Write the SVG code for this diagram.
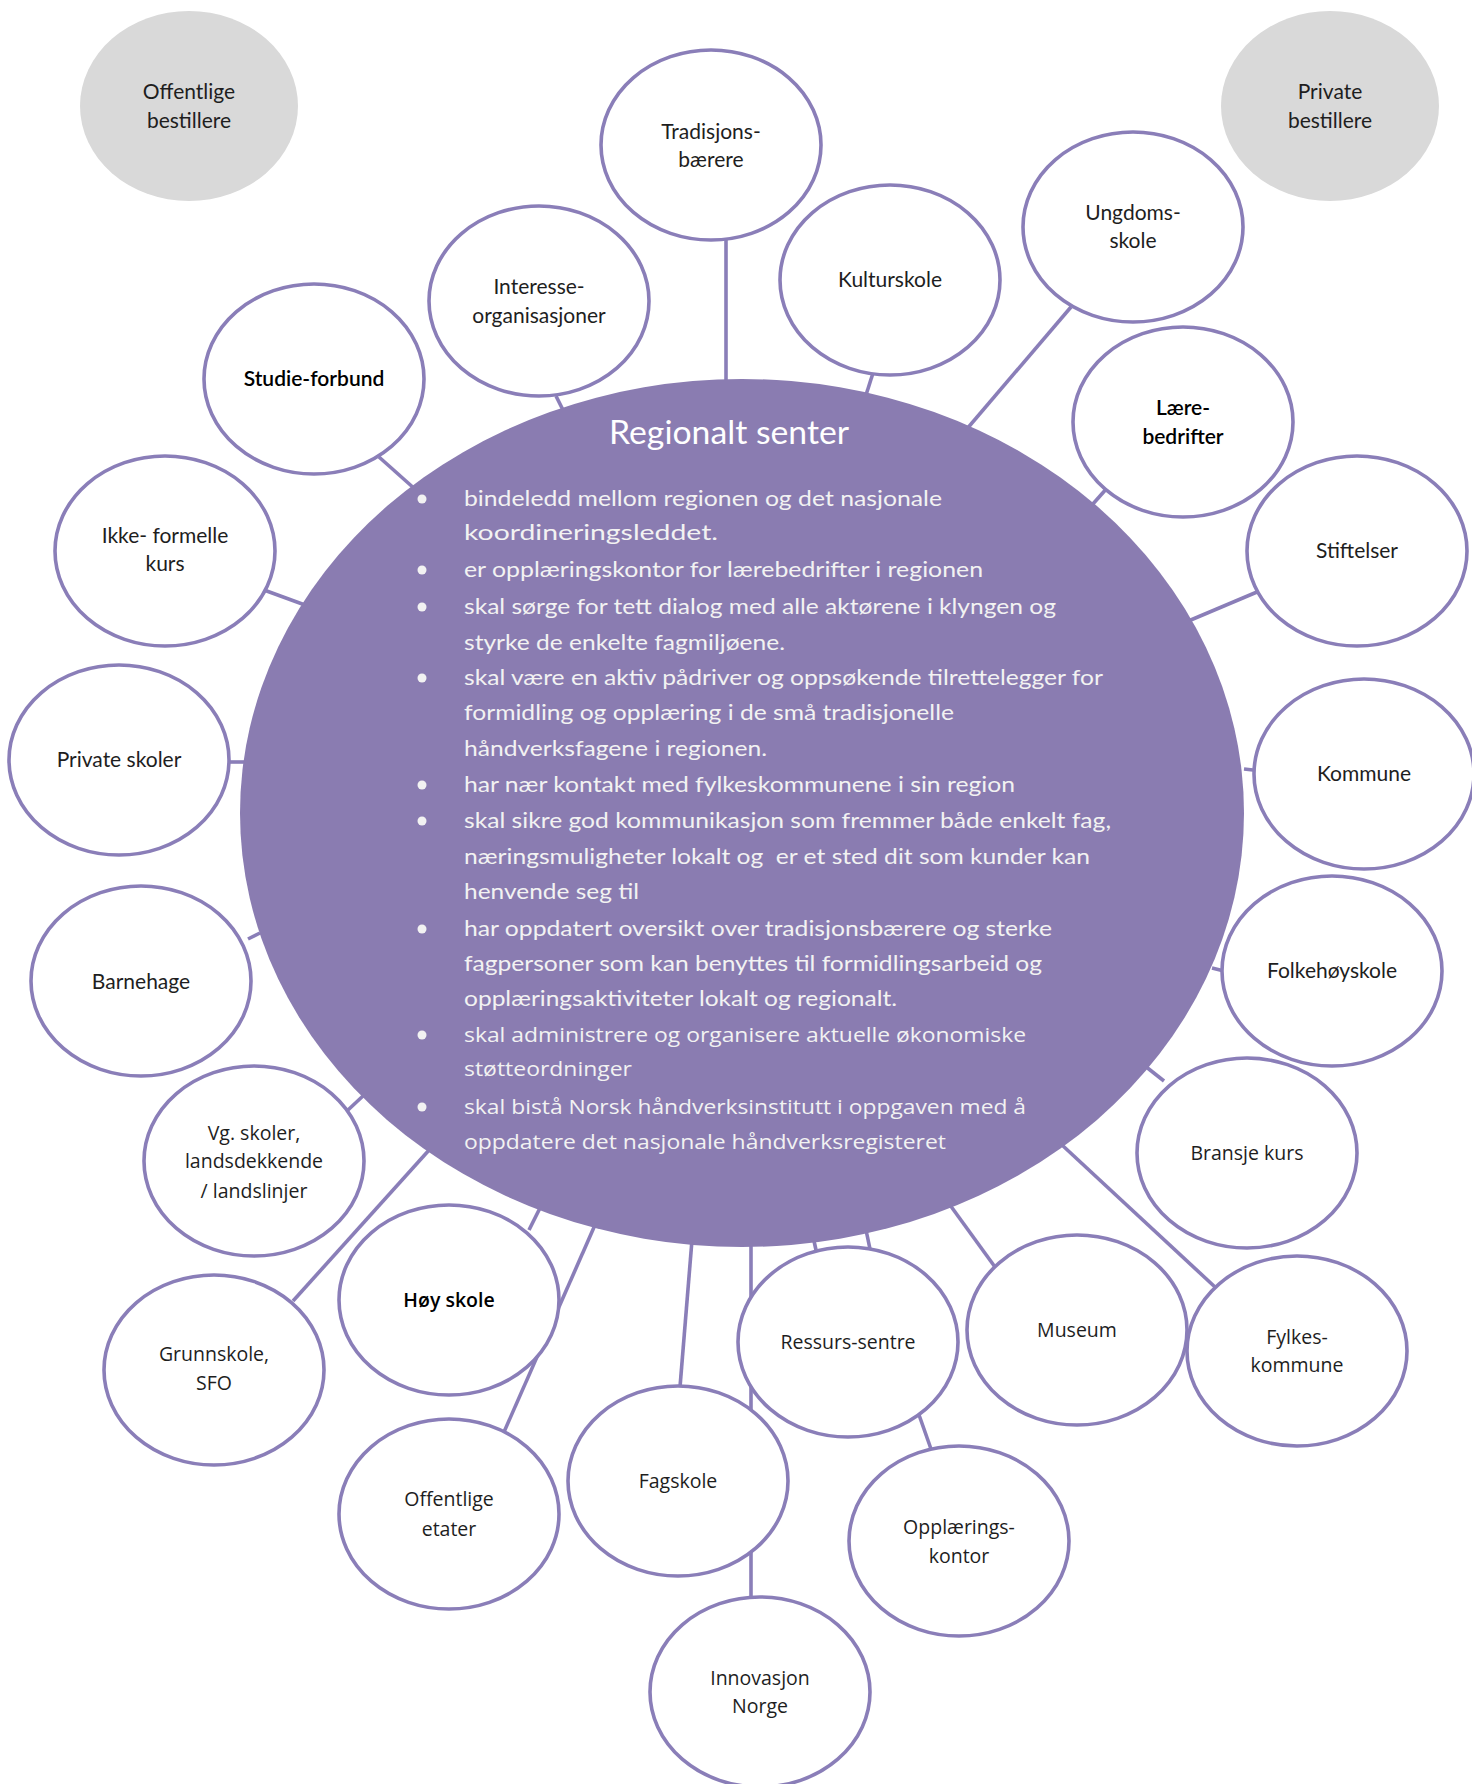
<svg xmlns="http://www.w3.org/2000/svg" width="1472" height="1784" viewBox="0 0 1472 1784">
<style>
.n{fill:#fff;stroke:#8A7EB8;stroke-width:3.6}
.g{fill:#D9D9D9;stroke:none}
.c line{stroke:#8A7EB8;stroke-width:3.6}
.a{font-family:Lato,"Liberation Sans",sans-serif;font-size:21px;fill:#1e1e1e;text-anchor:middle}
.b{font-family:"Open Sans","Noto Sans",sans-serif;font-size:19.5px;fill:#1e1e1e;text-anchor:middle}
.k{fill:#000;font-weight:600}
.t{font-family:Lato,"Liberation Sans",sans-serif;font-size:22px;fill:#F2F2F2}
.u{font-family:"Open Sans","Noto Sans",sans-serif;font-size:20.5px;fill:#F2F2F2}
.d{fill:#F2F2F2}
</style>
<rect width="1472" height="1784" fill="#fff"/>
<g id="connectors" class="c">
<line x1="726" y1="238" x2="726" y2="385"/>
<line x1="556" y1="396" x2="564" y2="412"/>
<line x1="379" y1="457" x2="416" y2="490"/>
<line x1="873" y1="373" x2="866" y2="395"/>
<line x1="1071" y1="307" x2="966" y2="430"/>
<line x1="1108" y1="487" x2="1092" y2="505"/>
<line x1="1257" y1="592" x2="1186" y2="622"/>
<line x1="1244" y1="769" x2="1262" y2="771"/>
<line x1="1212" y1="968" x2="1224" y2="971"/>
<line x1="1145" y1="1066" x2="1164" y2="1081"/>
<line x1="1062" y1="1145" x2="1215" y2="1287"/>
<line x1="950" y1="1205" x2="995" y2="1267"/>
<line x1="812" y1="1232" x2="816" y2="1250"/>
<line x1="866" y1="1230" x2="870" y2="1249"/>
<line x1="918" y1="1412" x2="931" y2="1449"/>
<line x1="751" y1="1240" x2="751" y2="1600"/>
<line x1="692" y1="1240" x2="680" y2="1387"/>
<line x1="540" y1="1208" x2="529" y2="1230"/>
<line x1="595" y1="1225" x2="504" y2="1432"/>
<line x1="430" y1="1149" x2="293" y2="1301"/>
<line x1="364" y1="1095" x2="348" y2="1110"/>
<line x1="248" y1="939" x2="260" y2="933"/>
<line x1="228" y1="762" x2="244" y2="762"/>
<line x1="264" y1="590" x2="305" y2="605"/>
</g>
<g id="regionalt-senter">
<ellipse cx="742" cy="813" rx="502" ry="434" fill="#8A7CB1"/>
<text x="729" y="444" text-anchor="middle" font-family="Lato,'Liberation Sans',sans-serif" font-size="32" fill="#fff" textLength="240" lengthAdjust="spacingAndGlyphs">Regionalt senter</text>
<circle class="d" cx="422" cy="499" r="4.5"/>
<circle class="d" cx="422" cy="570" r="4.5"/>
<circle class="d" cx="422" cy="607" r="4.5"/>
<circle class="d" cx="422" cy="678" r="4.5"/>
<circle class="d" cx="422" cy="785" r="4.5"/>
<circle class="d" cx="422" cy="821" r="4.5"/>
<circle class="d" cx="422" cy="929" r="4.5"/>
<circle class="d" cx="422" cy="1035" r="4.5"/>
<circle class="d" cx="422" cy="1107" r="4.5"/>
<text class="t" x="464" y="506" textLength="478" lengthAdjust="spacingAndGlyphs">bindeledd mellom regionen og det nasjonale</text>
<text class="t" x="464" y="540" textLength="254" lengthAdjust="spacingAndGlyphs">koordineringsleddet.</text>
<text class="t" x="464" y="577" textLength="519" lengthAdjust="spacingAndGlyphs">er opplæringskontor for lærebedrifter i regionen</text>
<text class="t" x="464" y="614" textLength="592" lengthAdjust="spacingAndGlyphs">skal sørge for tett dialog med alle aktørene i klyngen og</text>
<text class="t" x="464" y="650" textLength="321" lengthAdjust="spacingAndGlyphs">styrke de enkelte fagmiljøene.</text>
<text class="t" x="464" y="685" textLength="639" lengthAdjust="spacingAndGlyphs">skal være en aktiv pådriver og oppsøkende tilrettelegger for</text>
<text class="t" x="464" y="720" textLength="490" lengthAdjust="spacingAndGlyphs">formidling og opplæring i de små tradisjonelle</text>
<text class="t" x="464" y="756" textLength="303" lengthAdjust="spacingAndGlyphs">håndverksfagene i regionen.</text>
<text class="t" x="464" y="792" textLength="551" lengthAdjust="spacingAndGlyphs">har nær kontakt med fylkeskommunene i sin region</text>
<text class="t" x="464" y="828" textLength="647" lengthAdjust="spacingAndGlyphs">skal sikre god kommunikasjon som fremmer både enkelt fag,</text>
<text class="t" x="464" y="864" textLength="626" lengthAdjust="spacingAndGlyphs" xml:space="preserve">næringsmuligheter lokalt og  er et sted dit som kunder kan</text>
<text class="t" x="464" y="899" textLength="175" lengthAdjust="spacingAndGlyphs">henvende seg til</text>
<text class="t" x="464" y="936" textLength="588" lengthAdjust="spacingAndGlyphs">har oppdatert oversikt over tradisjonsbærere og sterke</text>
<text class="t" x="464" y="971" textLength="578" lengthAdjust="spacingAndGlyphs">fagpersoner som kan benyttes til formidlingsarbeid og</text>
<text class="t" x="464" y="1006" textLength="433" lengthAdjust="spacingAndGlyphs">opplæringsaktiviteter lokalt og regionalt.</text>
<text class="u" x="464" y="1042" textLength="562" lengthAdjust="spacingAndGlyphs">skal administrere og organisere aktuelle økonomiske</text>
<text class="u" x="464" y="1076" textLength="168" lengthAdjust="spacingAndGlyphs">støtteordninger</text>
<text class="u" x="464" y="1114" textLength="562" lengthAdjust="spacingAndGlyphs">skal bistå Norsk håndverksinstitutt i oppgaven med å</text>
<text class="u" x="464" y="1149" textLength="482" lengthAdjust="spacingAndGlyphs">oppdatere det nasjonale håndverksregisteret</text>
</g>
<g id="offentlige-bestillere"><ellipse class="g" cx="189" cy="106" rx="109" ry="95"/><text class="a" x="189" y="99">Offentlige</text><text class="a" x="189" y="128">bestillere</text></g>
<g id="private-bestillere"><ellipse class="g" cx="1330" cy="106" rx="109" ry="95"/><text class="a" x="1330" y="99">Private</text><text class="a" x="1330" y="128">bestillere</text></g>
<g id="tradisjonsbaerere"><ellipse class="n" cx="711" cy="145" rx="110" ry="95"/><text class="a" x="711" y="139">Tradisjons-</text><text class="a" x="711" y="167">bærere</text></g>
<g id="interesseorganisasjoner"><ellipse class="n" cx="539" cy="301" rx="110" ry="95"/><text class="a" x="539" y="294">Interesse-</text><text class="a" x="539" y="323">organisasjoner</text></g>
<g id="studieforbund"><ellipse class="n" cx="314" cy="379" rx="110" ry="95"/><text class="a k" x="314" y="386">Studie-forbund</text></g>
<g id="ikke-formelle-kurs"><ellipse class="n" cx="165" cy="551" rx="110" ry="95"/><text class="a" x="165" y="543">Ikke- formelle</text><text class="a" x="165" y="571">kurs</text></g>
<g id="private-skoler"><ellipse class="n" cx="119" cy="760" rx="110" ry="95"/><text class="a" x="119" y="767">Private skoler</text></g>
<g id="barnehage"><ellipse class="n" cx="141" cy="981" rx="110" ry="95"/><text class="a" x="141" y="989">Barnehage</text></g>
<g id="vg-skoler"><ellipse class="n" cx="254" cy="1161" rx="110" ry="95"/><text class="b" x="254" y="1140">Vg. skoler,</text><text class="b" x="254" y="1168">landsdekkende</text><text class="b" x="254" y="1198">/ landslinjer</text></g>
<g id="grunnskole"><ellipse class="n" cx="214" cy="1370" rx="110" ry="95"/><text class="b" x="214" y="1361">Grunnskole,</text><text class="b" x="214" y="1390">SFO</text></g>
<g id="hoy-skole"><ellipse class="n" cx="449" cy="1300" rx="110" ry="95"/><text class="b k" x="449" y="1307">Høy skole</text></g>
<g id="offentlige-etater"><ellipse class="n" cx="449" cy="1514" rx="110" ry="95"/><text class="b" x="449" y="1506">Offentlige</text><text class="b" x="449" y="1536">etater</text></g>
<g id="fagskole"><ellipse class="n" cx="678" cy="1481" rx="110" ry="95"/><text class="b" x="678" y="1488">Fagskole</text></g>
<g id="innovasjon-norge"><ellipse class="n" cx="760" cy="1692" rx="110" ry="95"/><text class="b" x="760" y="1685">Innovasjon</text><text class="b" x="760" y="1713">Norge</text></g>
<g id="ressurssentre"><ellipse class="n" cx="848" cy="1342" rx="110" ry="95"/><text class="b" x="848" y="1349">Ressurs-sentre</text></g>
<g id="opplaeringskontor"><ellipse class="n" cx="959" cy="1541" rx="110" ry="95"/><text class="b" x="959" y="1534">Opplærings-</text><text class="b" x="959" y="1563">kontor</text></g>
<g id="museum"><ellipse class="n" cx="1077" cy="1330" rx="110" ry="95"/><text class="b" x="1077" y="1337">Museum</text></g>
<g id="fylkeskommune"><ellipse class="n" cx="1297" cy="1351" rx="110" ry="95"/><text class="b" x="1297" y="1344">Fylkes-</text><text class="b" x="1297" y="1372">kommune</text></g>
<g id="bransje-kurs"><ellipse class="n" cx="1247" cy="1153" rx="110" ry="95"/><text class="b" x="1247" y="1160">Bransje kurs</text></g>
<g id="folkehoyskole"><ellipse class="n" cx="1332" cy="971" rx="110" ry="95"/><text class="a" x="1332" y="978">Folkehøyskole</text></g>
<g id="kommune"><ellipse class="n" cx="1364" cy="774" rx="110" ry="95"/><text class="a" x="1364" y="781">Kommune</text></g>
<g id="stiftelser"><ellipse class="n" cx="1357" cy="551" rx="110" ry="95"/><text class="a" x="1357" y="558">Stiftelser</text></g>
<g id="laerebedrifter"><ellipse class="n" cx="1183" cy="422" rx="110" ry="95"/><text class="a k" x="1183" y="415">Lære-</text><text class="a k" x="1183" y="444">bedrifter</text></g>
<g id="ungdomsskole"><ellipse class="n" cx="1133" cy="227" rx="110" ry="95"/><text class="a" x="1133" y="220">Ungdoms-</text><text class="a" x="1133" y="248">skole</text></g>
<g id="kulturskole"><ellipse class="n" cx="890" cy="280" rx="110" ry="95"/><text class="a" x="890" y="287">Kulturskole</text></g>
</svg>
